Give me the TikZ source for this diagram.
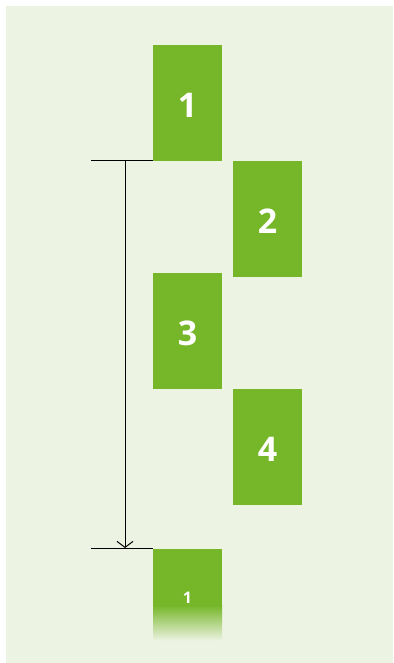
\documentclass[tikz,border=0pt]{standalone}
\usepackage{fontspec}
\usetikzlibrary{arrows.meta}
\setmainfont{Open Sans}
\definecolor{bg}{RGB}{237,243,227}
\definecolor{gr}{RGB}{118,183,42}
\begin{document}
\begin{tikzpicture}[x=1pt,y=-1pt,
  box/.style={fill=gr,minimum width=69pt,minimum height=116pt,inner sep=0pt},
  num/.style={text=white,inner sep=0pt,font=\bfseries\fontsize{34}{34}\selectfont},
  tick/.style={draw=black,line width=1pt}]
\useasboundingbox (0,0) rectangle (393,663);
\fill[white] (0,0) rectangle (393,663);
\fill[bg] (6,6) rectangle (393,663);
\node[box] (b1) at (187.5,103.5) {};
\node[box] (b2) at (267.5,219) {};
\node[box] (b3) at (187.5,331) {};
\node[box] (b4) at (267.5,447) {};
\node[num] at (187.5,105.5) {1};
\node[num] at (267.5,221) {2};
\node[num] at (187.5,333.5) {3};
\node[num] at (267.5,449) {4};
% bottom faded box
\fill[gr] (153,549) rectangle (222,606);
\shade[top color=gr,bottom color=bg] (153,605.5) rectangle (222,641);
\node[text=white,font=\bfseries\fontsize{16}{16}\selectfont,inner sep=0pt] (b5) at (187.5,597.5) {1};
\coordinate (t1) at (91,161);
\coordinate (t2) at (153,161);
\coordinate (s1) at (91,548);
\coordinate (s2) at (153,548);
\coordinate (a1) at (125,161);
\coordinate (a2) at (125,548);
\draw[tick] (t1) -- (t2);
\draw[tick] (s1) -- (s2);
\draw[line width=1pt,-{Straight Barb[length=6pt,width=16pt]}] (a1) -- (a2);
\end{tikzpicture}
\end{document}
